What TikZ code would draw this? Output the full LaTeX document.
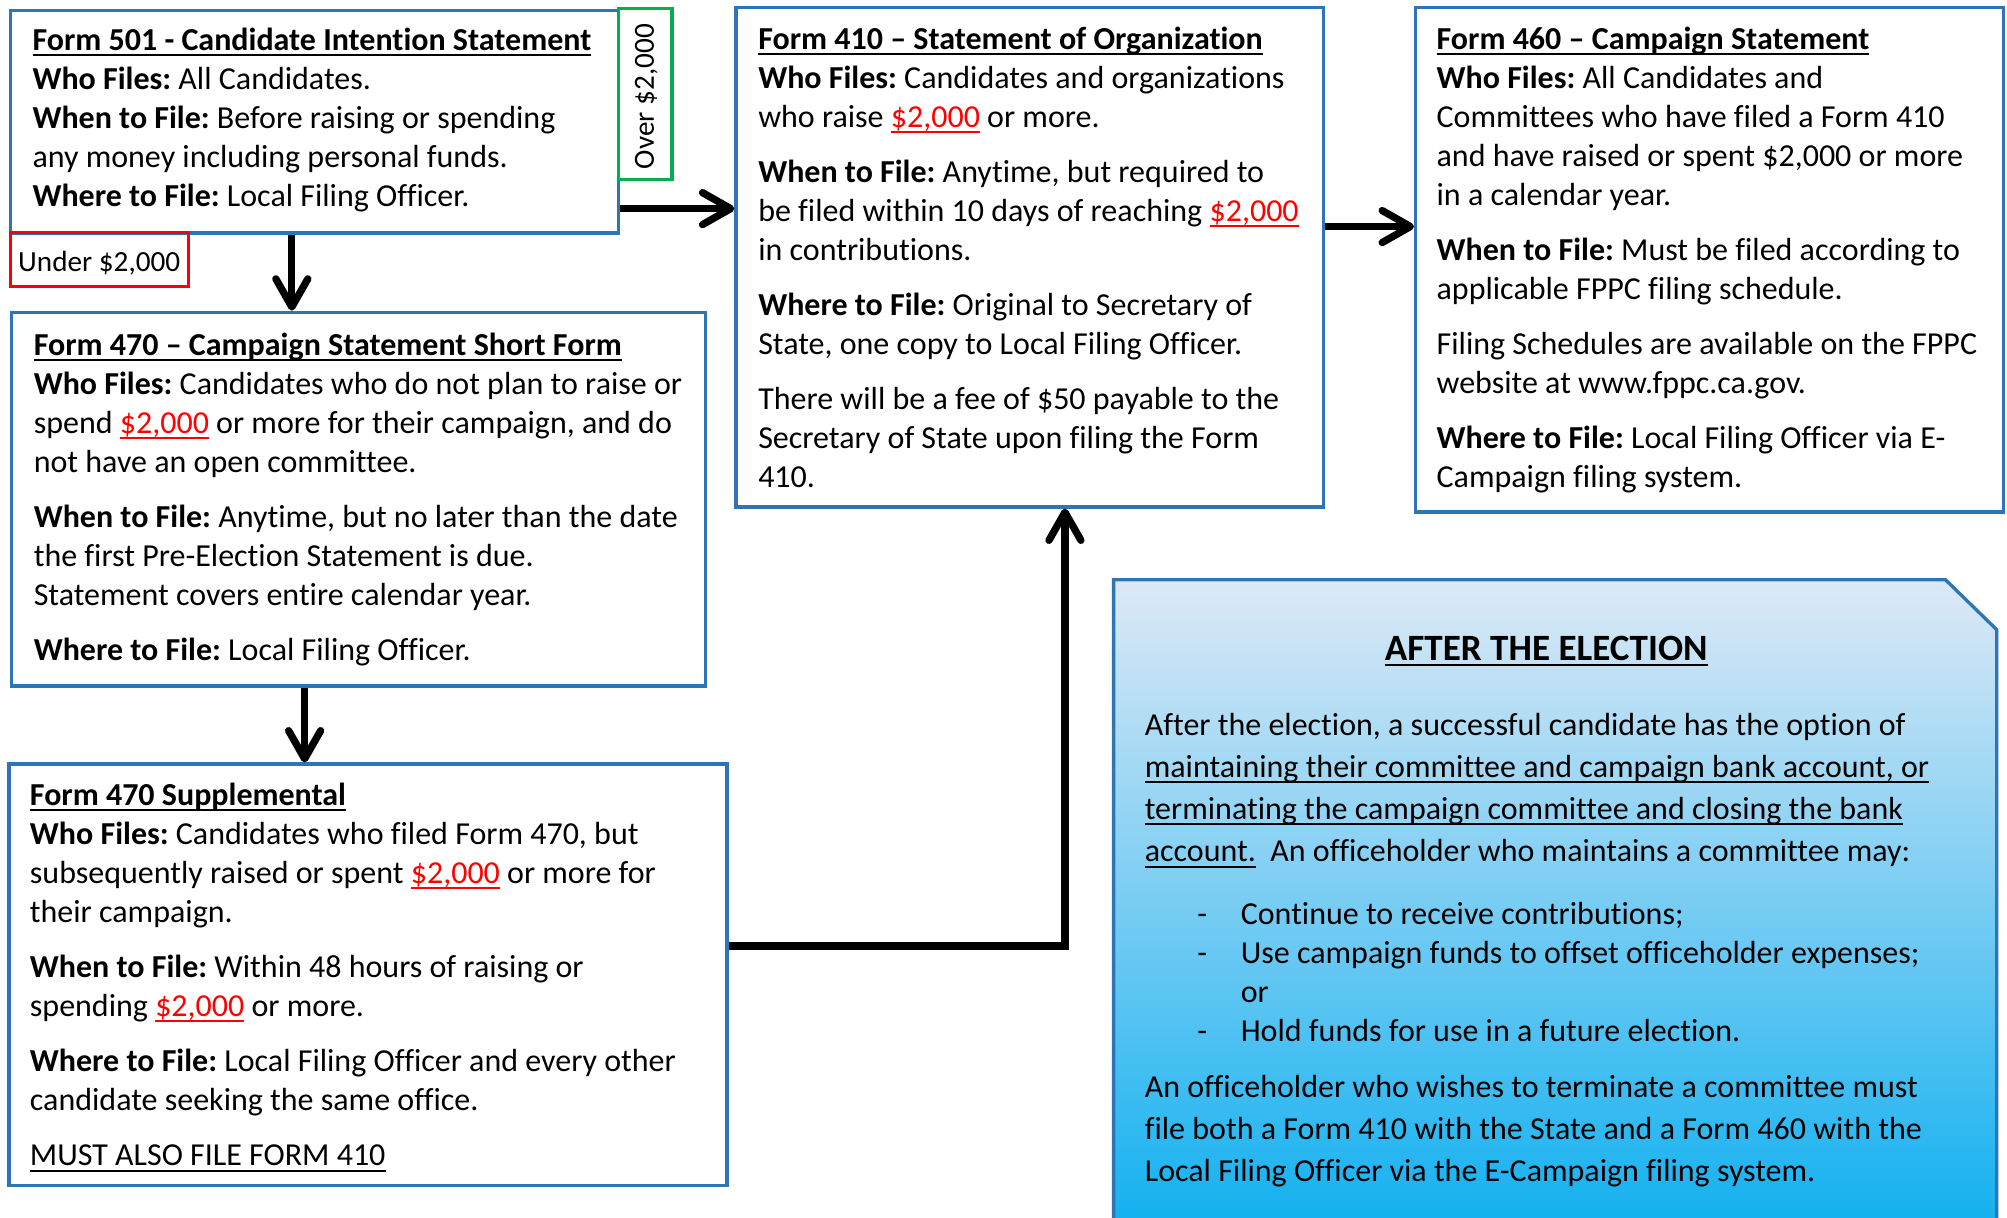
\documentclass[tikz,border=0pt]{standalone}
\usepackage{fontspec}
\setmainfont{Carlito}[Ligatures={NoCommon}]
\usetikzlibrary{arrows.meta,fit,calc}
\definecolor{boxblue}{RGB}{46,117,182}
\definecolor{grn}{RGB}{0,176,80}
\definecolor{shTop}{RGB}{221,233,246}
\definecolor{shMid}{RGB}{160,196,231}
\definecolor{shBot}{RGB}{13,175,240}
\newcommand\myul[1]{\leavevmode\setbox0\hbox{#1}\rlap{\rule[-2.2pt]{\wd0}{0.8pt}}\box0}
\newcommand\twok{\textcolor{red}{\myul{\$2,000}}}
\newcommand\fl{\leavevmode\rule{0pt}{10pt}}
\newcommand\dash[1]{\hspace*{20.5pt}\makebox[17pt][l]{-}#1}
\frenchspacing
\tikzset{
  box/.style={draw=boxblue, line width=1.3pt, fill=white, inner sep=0pt},
  txt/.style={anchor=north west, inner sep=0pt, align=flush left, text width=330pt,
    font=\fontsize{12.5pt}{15.25pt}\selectfont\frenchspacing},
  wtxt/.style={txt, font=\fontsize{12.5pt}{16.5pt}\selectfont\frenchspacing},
  lbl/.style={inner sep=0pt, font=\fontsize{11.4pt}{13pt}\selectfont},
  conn/.style={line width=2.85pt, -{Straight Barb[length=11pt,width=12.5pt,round]}}
}
\begin{document}
\begin{tikzpicture}[x=0.5pt,y=-0.5pt]
\useasboundingbox (0,0) rectangle (1568,951);
\fill[white] (0,0) rectangle (1568,951);

% after the election panel
\shade[top color=shTop, middle color=shMid, bottom color=shBot, draw=boxblue, line width=1.3pt]
  (870,970) -- (870,453) -- (1520,453) -- (1560,492) -- (1560,970) -- cycle;
\coordinate (apanel) at (1215,700);

% boxes
\node[box, fit={(8,8) (483,182)}] (f501) {};
\node[draw=grn, line width=1.2pt, inner sep=0pt, fit={(483,7) (525,140)}] (over) {};
\node[draw=red, line width=1.2pt, inner sep=0pt, fit={(8,182) (147,224)}] (under) {};
\node[box, fit={(9,244) (551,536)}] (f470) {};
\node[box, fit={(7,597) (568,926)}] (f470s) {};
\node[box, fit={(575,6) (1034,396)}] (f410) {};
\node[box, fit={(1106,6) (1565,400)}] (f460) {};

\node[lbl, rotate=90] (overt) at ([xshift=0.5pt,yshift=-1pt]over.center) {Over \$2,000};
\node[lbl] (undert) at ([yshift=-1.2pt]under.center) {Under \$2,000};

% texts
\node[txt] (t501) at (25,19) {\fl\textbf{\myul{Form 501 - Candidate Intention Statement}}\\
\textbf{Who Files:} All Candidates.\\
\textbf{When to File:} Before raising or spending\\
any money including personal funds.\\
\textbf{Where to File:} Local Filing Officer.};

\node[txt] (t470) at (26,257) {\fl\textbf{\myul{Form 470 – Campaign Statement Short Form}}\\
\textbf{Who Files:} Candidates who do not plan to raise or\\
spend \twok{} or more for their campaign, and do\\
not have an open committee.\\[6.25pt]
\textbf{When to File:} Anytime, but no later than the date\\
the first Pre-Election Statement is due.\\
Statement covers entire calendar year.\\[6.25pt]
\textbf{Where to File:} Local Filing Officer.};

\node[txt] (t470s) at (23,609) {\fl\textbf{\myul{Form 470 Supplemental}}\\
\textbf{Who Files:} Candidates who filed Form 470, but\\
subsequently raised or spent \twok{} or more for\\
their campaign.\\[6.25pt]
\textbf{When to File:} Within 48 hours of raising or\\
spending \twok{} or more.\\[6.25pt]
\textbf{Where to File:} Local Filing Officer and every other\\
candidate seeking the same office.\\[6.25pt]
\myul{MUST ALSO FILE FORM 410}};

\node[txt] (t410) at (592,18) {\fl\textbf{\myul{Form 410 – Statement of Organization}}\\
\textbf{Who Files:} Candidates and organizations\\
who raise \twok{} or more.\\[6.25pt]
\textbf{When to File:} Anytime, but required to\\
be filed within 10 days of reaching \twok\\
in contributions.\\[6.25pt]
\textbf{Where to File:} Original to Secretary of\\
State, one copy to Local Filing Officer.\\[6.25pt]
There will be a fee of \$50 payable to the\\
Secretary of State upon filing the Form\\
410.};

\node[txt] (t460) at (1122,18) {\fl\textbf{\myul{Form 460 – Campaign Statement}}\\
\textbf{Who Files:} All Candidates and\\
Committees who have filed a Form 410\\
and have raised or spent \$2,000 or more\\
in a calendar year.\\[6.25pt]
\textbf{When to File:} Must be filed according to\\
applicable FPPC filing schedule.\\[6.25pt]
Filing Schedules are available on the FPPC\\
website at www.fppc.ca.gov.\\[6.25pt]
\textbf{Where to File:} Local Filing Officer via E-\\
Campaign filing system.};

\node[anchor=base, inner sep=0pt, font=\fontsize{14.5pt}{17pt}\selectfont\bfseries] (atitle) at (1208,516) {\myul{AFTER THE ELECTION}};

\node[wtxt] (ap1) at (894,554) {\fl After the election, a successful candidate has the option of\\
\myul{maintaining their committee and campaign bank account, or}\\
\myul{terminating the campaign committee and closing the bank}\\
\myul{account.}\ \ An officeholder who maintains a committee may:};

\node[txt] (alist) at (894,702) {\fl\dash{Continue to receive contributions;}\\
\dash{Use campaign funds to offset officeholder expenses;}\\
\hspace*{37.5pt}or\\
\dash{Hold funds for use in a future election.}};

\node[wtxt] (ap2) at (894,837) {\fl An officeholder who wishes to terminate a committee must\\
file both a Form 410 with the State and a Form 460 with the\\
Local Filing Officer via the E-Campaign filing system.};

% connectors
\draw[conn] (f501.east |- 0,163) -- (f410.west |- 0,163);
\draw[conn] (f501.south -| 228,0) -- (f470.north -| 228,0);
\draw[conn] (f470.south -| 238,0) -- (f470s.north -| 238,0);
\draw[conn] (f410.east |- 0,177) -- (f460.west |- 0,177);
\draw[conn] (f470s.east |- 0,739) -| (f410.south -| 832,0);
\end{tikzpicture}
\end{document}
